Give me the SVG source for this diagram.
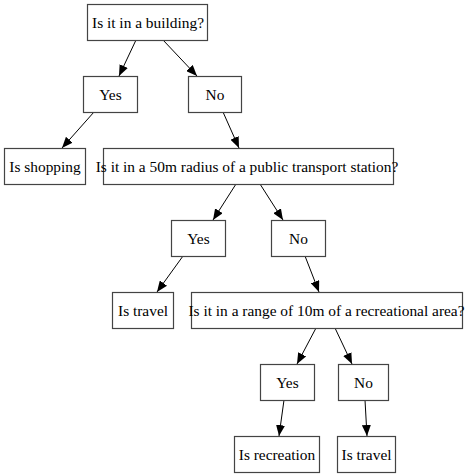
<svg xmlns="http://www.w3.org/2000/svg" width="465" height="476" viewBox="0 0 465 476">
<style>
.box{fill:#fff;stroke:#444;stroke-width:1.2}
.lbl{font-family:"Liberation Serif","Times New Roman",serif;font-size:15.4px;fill:#000;text-anchor:middle}
.edge{stroke:#000;stroke-width:1;fill:none}
</style>
<defs>
<marker id="ah" markerUnits="userSpaceOnUse" markerWidth="12" markerHeight="9" refX="11" refY="4.5" orient="auto">
<path d="M0,0 L11,4.5 L0,9 z" fill="#000"/>
</marker>
</defs>
<rect width="465" height="476" fill="#fff"/>
<g id="edges">
<path class="edge" marker-end="url(#ah)" d="M136,40 L119,76"/>
<path class="edge" marker-end="url(#ah)" d="M163,40 L197,76"/>
<path class="edge" marker-end="url(#ah)" d="M94,112 L62,148"/>
<path class="edge" marker-end="url(#ah)" d="M223,112 L239,148"/>
<path class="edge" marker-end="url(#ah)" d="M236,184 L213,220"/>
<path class="edge" marker-end="url(#ah)" d="M260,184 L283,220"/>
<path class="edge" marker-end="url(#ah)" d="M183,256 L157,292"/>
<path class="edge" marker-end="url(#ah)" d="M305,256 L319,292"/>
<path class="edge" marker-end="url(#ah)" d="M316,328 L297,364"/>
<path class="edge" marker-end="url(#ah)" d="M335,328 L352,364"/>
<path class="edge" marker-end="url(#ah)" d="M284,400 L279,436"/>
<path class="edge" marker-end="url(#ah)" d="M365,400 L367,436"/>
</g>
<g id="q1"><rect class="box" x="87.5" y="4.5" width="120" height="36"/><text class="lbl" x="148" y="28">Is it in a building?</text></g>
<g id="yes1"><rect class="box" x="83.5" y="76.5" width="54" height="36"/><text class="lbl" x="110.5" y="100">Yes</text></g>
<g id="no1"><rect class="box" x="188.5" y="76.5" width="53" height="36"/><text class="lbl" x="215" y="100">No</text></g>
<g id="shopping"><rect class="box" x="4.5" y="148.5" width="81" height="36"/><text class="lbl" x="45" y="172">Is shopping</text></g>
<g id="q2"><rect class="box" x="103.5" y="148.5" width="290" height="36"/><text class="lbl" x="247" y="172">Is it in a 50m radius of a public transport station?</text></g>
<g id="yes2"><rect class="box" x="171.5" y="220.5" width="54" height="36"/><text class="lbl" x="198.5" y="244">Yes</text></g>
<g id="no2"><rect class="box" x="271.5" y="220.5" width="54" height="36"/><text class="lbl" x="298.5" y="244">No</text></g>
<g id="travel1"><rect class="box" x="112.5" y="292.5" width="61" height="36"/><text class="lbl" x="143" y="316">Is travel</text></g>
<g id="q3"><rect class="box" x="191.5" y="292.5" width="271" height="36"/><text class="lbl" x="326.5" y="316">Is it in a range of 10m of a recreational area?</text></g>
<g id="yes3"><rect class="box" x="260.5" y="364.5" width="54" height="36"/><text class="lbl" x="287.5" y="388">Yes</text></g>
<g id="no3"><rect class="box" x="338.5" y="364.5" width="50" height="36"/><text class="lbl" x="363.5" y="388">No</text></g>
<g id="recreation"><rect class="box" x="234.5" y="436.5" width="85" height="36"/><text class="lbl" x="277" y="460">Is recreation</text></g>
<g id="travel2"><rect class="box" x="337.5" y="436.5" width="58" height="36"/><text class="lbl" x="366.5" y="460">Is travel</text></g>
</svg>
